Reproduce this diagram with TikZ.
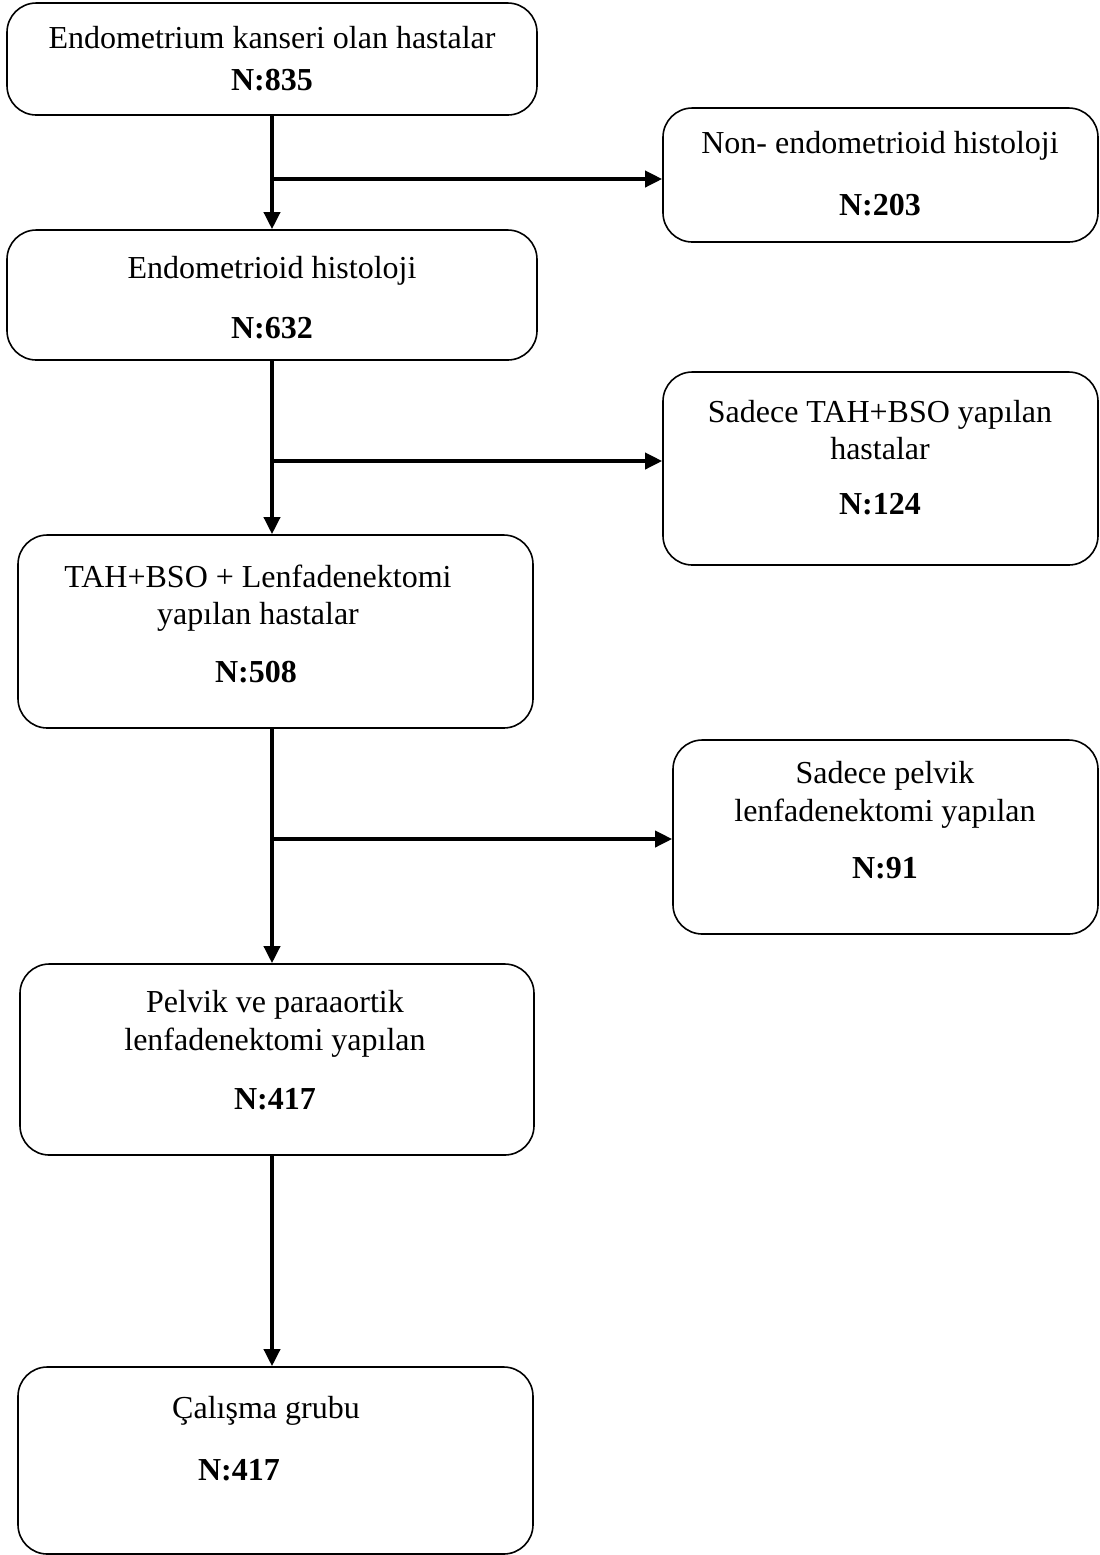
\documentclass[tikz,border=0pt]{standalone}
\usepackage{fontspec}
\setmainfont{Liberation Serif}
\usepackage{tikz}
\usetikzlibrary{arrows.meta, positioning, fit}

\begin{document}
\begin{tikzpicture}[
        x=0.375pt, y=-0.375pt,
        box/.style={draw, rectangle, rounded corners=11pt, line width=0.6pt, inner sep=0pt},
        lbl/.style={align=center, inner sep=0pt, font=\fontsize{12}{14}\selectfont},
        num/.style={inner sep=0pt, font=\fontsize{12}{14}\selectfont\bfseries},
        flow/.style={-{Triangle[length=6.4pt, width=6pt]}, line width=1.4pt}
    ]
        \useasboundingbox (0,0) rectangle (1099,1555);

        % Main column
        \node[box, fit={(7,3) (537,115)}] (all) {};
        \node[box, fit={(7,230) (537,360)}] (endo) {};
        \node[box, fit={(18,535) (533,728)}] (lenf) {};
        \node[box, fit={(20,964) (534,1155)}] (pelpara) {};
        \node[box, fit={(18,1367) (533,1554)}] (study) {};

        % Excluded patients
        \node[box, fit={(663,108) (1098,242)}] (nonendo) {};
        \node[box, fit={(663,372) (1098,565)}] (tahbso) {};
        \node[box, fit={(673,740) (1098,934)}] (pelvic) {};

        % Texts
        \node[lbl] (allT) at (272,38) {Endometrium kanseri olan hastalar};
        \node[num] (allN) at (272,80) {N:835};
        \node[lbl] (nonendoT) at (880,146) {Non- endometrioid histoloji};
        \node[num] (nonendoN) at (880,205) {N:203};
        \node[lbl] (endoT) at (272,271) {Endometrioid histoloji};
        \node[num] (endoN) at (272,328) {N:632};
        \node[lbl] (tahbsoT) at (880,430) {Sadece TAH+BSO yapılan\\hastalar};
        \node[num] (tahbsoN) at (880,504) {N:124};
        \node[lbl] (lenfT) at (258,598) {TAH+BSO + Lenfadenektomi\\yapılan hastalar};
        \node[num] (lenfN) at (256,672) {N:508};
        \node[lbl] (pelvicT) at (885,795) {Sadece pelvik\\lenfadenektomi yapılan};
        \node[num] (pelvicN) at (885,868) {N:91};
        \node[lbl] (pelparaT) at (275,1024) {Pelvik ve paraaortik\\lenfadenektomi yapılan};
        \node[num] (pelparaN) at (275,1099) {N:417};
        \node[lbl] (studyT) at (266,1411) {Çalışma grubu};
        \node[num] (studyN) at (239,1470) {N:417};

        % Branch points
        \coordinate (br1) at (273,179);
        \coordinate (br2) at (273,461);
        \coordinate (br3) at (273,839);

        % Flow
        \draw[flow] (all.south) -- (all.south |- endo.north);
        \draw[flow] (br1) -- (nonendo.west |- br1);
        \draw[flow] (endo.south) -- (endo.south |- lenf.north);
        \draw[flow] (br2) -- (tahbso.west |- br2);
        \draw[flow] (endo.south |- lenf.south) -- (endo.south |- pelpara.north);
        \draw[flow] (br3) -- (pelvic.west |- br3);
        \draw[flow] (endo.south |- pelpara.south) -- (endo.south |- study.north);

    \end{tikzpicture}
\end{document}
